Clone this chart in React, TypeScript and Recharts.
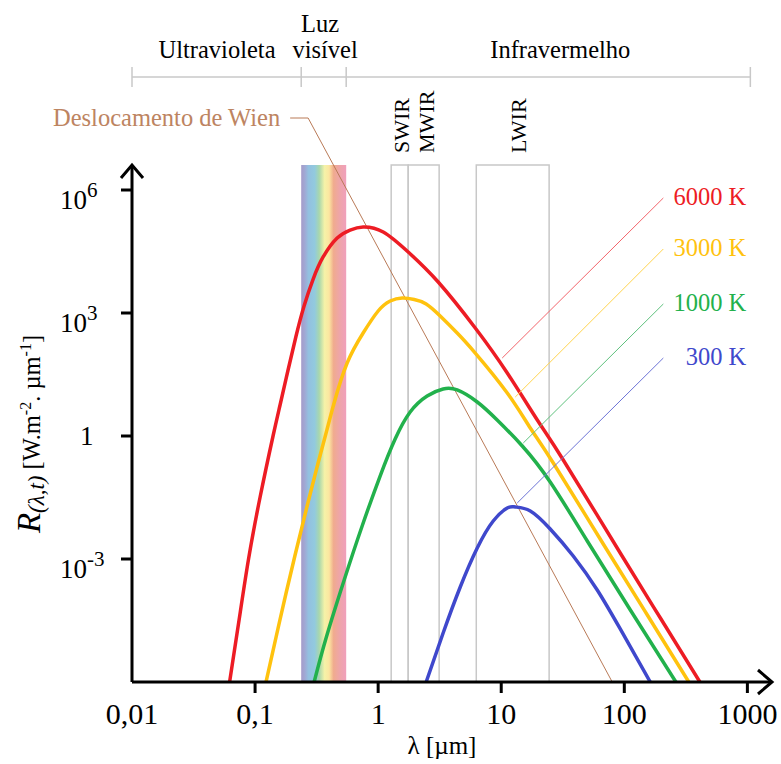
import React from "react";
import {
  LineChart,
  Line,
  XAxis,
  YAxis,
  ReferenceArea,
  ReferenceLine,
  ReferenceDot,
} from "recharts";

const FONT = "Liberation Serif, Times New Roman, serif";

// log10(λ [µm]) / log10(R)
const logL6000 = [-1.207, -1.13, -1.053, -0.959, -0.854, -0.797, -0.732, -0.667, -0.602, -0.528, -0.447, -0.333, -0.228, -0.122, 0.041, 0.244, 0.488, 0.789, 1.049, 1.293, 1.504, 1.967, 2.293, 2.614];
const logR6000 = [-6.0, -4.488, -3.0, -1.488, 0.0, 0.756, 1.61, 2.439, 3.171, 3.829, 4.366, 4.829, 5.024, 5.098, 4.976, 4.488, 3.756, 2.634, 1.537, 0.39, -0.585, -2.854, -4.439, -6.0];

const logL3000 = [-0.911, -0.829, -0.748, -0.659, -0.569, -0.488, -0.423, -0.358, -0.252, -0.122, 0.0, 0.098, 0.195, 0.293, 0.39, 0.504, 0.642, 0.789, 1.049, 1.236, 1.423, 1.829, 2.187, 2.524];
const logR3000 = [-6.0, -4.902, -3.829, -2.707, -1.61, -0.659, 0.073, 0.805, 1.78, 2.512, 3.049, 3.293, 3.366, 3.329, 3.22, 2.927, 2.512, 2.024, 1.049, 0.195, -0.659, -2.634, -4.366, -6.0];

const logL1000 = [-0.52, -0.423, -0.276, -0.13, 0.016, 0.138, 0.26, 0.398, 0.528, 0.642, 0.805, 0.967, 1.171, 1.398, 1.699, 2.049, 2.419];
const logR1000 = [-6.0, -4.927, -3.512, -2.195, -0.976, -0.073, 0.585, 0.976, 1.146, 1.122, 0.829, 0.39, -0.244, -1.122, -2.561, -4.244, -6.0];

const logL300 = [0.39, 0.528, 0.667, 0.805, 0.935, 1.049, 1.114, 1.236, 1.398, 1.585, 1.78, 1.967, 2.211];
const logR300 = [-6.0, -4.805, -3.683, -2.732, -2.073, -1.756, -1.732, -1.829, -2.268, -2.927, -3.756, -4.707, -6.0];

// Wien displacement guide
const logLWien = [-0.715, -0.569, 1.902];
const logRWien = [7.756, 7.756, -6.0];

// leader lines from each curve to its label (log10 λ, log10 R)
const leaderLow = [[1.008, 1.902], [1.114, 0.951], [1.179, -0.171], [1.13, -1.634]];
const leaderHigh = [[2.317, 5.805], [2.317, 4.561], [2.317, 3.22], [2.317, 1.902]];

const tempLabels = ["6000 K", "3000 K", "1000 K", "300 K"];
const curveColors = ["#ed1c24", "#ffc20e", "#22b14c", "#3f48cc"];
const leaderColors = ["#f2646b", "#ffd34d", "#5fc27e", "#6d74d6"];

const xTicks = [0.01, 0.1, 1, 10, 100, 1000];
const xTickLabels = ["0,01", "0,1", "1", "10", "100", "1000"];
const yTicks = [1e-3, 1, 1e3, 1e6];
const yTickExponents = ["-3", "", "3", "6"];

// spectral regions (µm)
const visibleFrom = 0.237;
const visibleTo = 0.55;
const irBoxes = [
  [1.276, 1.754],
  [1.754, 3.13],
  [6.27, 24.5],
];
const irBandNames = ["SWIR", "MWIR", "LWIR"];
const irBandLabelAt = [[0.252, 6.902], [0.455, 6.902], [1.203, 6.902]];

const regionLabels = ["Ultravioleta", "Luz", "visível", "Infravermelho"];
const regionLabelAt = [[-1.309, 9.22], [-0.472, 9.854], [-0.431, 9.22], [1.48, 9.22]];
const bracketStops = [0.01, visibleFrom, visibleTo, 10 ** 3.024];

const X_MAX = 10 ** 3.2;
const Y_MIN = 1e-6;
const Y_MAX = 1e10;
const FRAME_TOP = 10 ** 6.61;
const BRACKET_Y = 10 ** 8.756;

const pts = (ls: number[], rs: number[]) =>
  ls.map((l, i) => ({ x: 10 ** l, y: 10 ** rs[i] }));

const curves = [
  pts(logL6000, logR6000),
  pts(logL3000, logR3000),
  pts(logL1000, logR1000),
  pts(logL300, logR300),
];
const wien = pts(logLWien, logRWien);

function XTick({ x, y, payload }: any) {
  const i = xTicks.indexOf(payload.value);
  return (
    <g>
      {i > 0 && <line x1={x} x2={x} y1={y} y2={y + 11} stroke="#000" strokeWidth={3} />}
      <text x={x} y={y + 42} textAnchor="middle" fontFamily={FONT} fontSize={30} fill="#000">
        {xTickLabels[i]}
      </text>
    </g>
  );
}

function YTick({ x, y, payload }: any) {
  const i = yTicks.indexOf(payload.value);
  const exp = yTickExponents[i];
  return (
    <g>
      <line x1={x - 11} x2={x} y1={y} y2={y} stroke="#000" strokeWidth={3} />
      {exp === "" ? (
        <text x={x - 52} y={y + 9} fontFamily={FONT} fontSize={27} fill="#000">1</text>
      ) : (
        <text x={x - 72} y={y + 19} fontFamily={FONT} fontSize={27} fill="#000">
          10<tspan dy={-12} fontSize={21}>{exp}</tspan>
        </text>
      )}
    </g>
  );
}

function YTitle() {
  return (
    <text transform="translate(40,434) rotate(-90)" textAnchor="middle" fontFamily={FONT} fontSize={24.5} fill="#000">
      <tspan fontStyle="italic" fontSize={33}>R</tspan>
      <tspan fontStyle="italic" fontSize={23} dy={4}>(λ,t)</tspan>
      <tspan dy={-4}> [W.m</tspan>
      <tspan fontSize={16} dy={-9}>-2</tspan>
      <tspan dy={9}>. µm</tspan>
      <tspan fontSize={16} dy={-9}>-1</tspan>
      <tspan dy={9}>]</tspan>
    </text>
  );
}

function XTitle() {
  return (
    <text x={442} y={754} textAnchor="middle" fontFamily={FONT} fontSize={25} fill="#000">
      λ [µm]
    </text>
  );
}

const axisArrow = (dir: "up" | "right") => (p: any) => {
  const { x1, y1, x2, y2 } = p;
  const head =
    dir === "up"
      ? `M${x2 - 11},${y2 + 13} L${x2},${y2} L${x2 + 11},${y2 + 13}`
      : `M${x2 - 14},${y2 - 12} L${x2},${y2} L${x2 - 14},${y2 + 12}`;
  return (
    <g>
      <line x1={x1} y1={y1} x2={x2} y2={y2} stroke="#000" strokeWidth={3} />
      <path d={head} fill="none" stroke="#000" strokeWidth={3} />
    </g>
  );
};

const textAt =
  (text: string, opts: { dx?: number; dy?: number; anchor?: string; color?: string; size?: number; rotate?: boolean }) =>
  (p: any) => {
    const { dx = 0, dy = 0, anchor = "middle", color = "#000", size = 24.5, rotate = false } = opts;
    const tx = p.cx + dx;
    const ty = p.cy + dy;
    return (
      <text
        x={rotate ? 0 : tx}
        y={rotate ? 0 : ty}
        transform={rotate ? `translate(${tx},${ty}) rotate(-90)` : undefined}
        textAnchor={anchor}
        fontFamily={FONT}
        fontSize={size}
        fill={color}
      >
        {text}
      </text>
    );
  };

export default function App() {
  return (
    <div style={{ position: "absolute", left: 0, top: 0, width: 781, height: 764, background: "#fff" }}>
      <LineChart width={781} height={764} margin={{ top: 26, right: 9, bottom: 0, left: 0 }}>
        <defs>
          <linearGradient id="rainbow" x1="0" x2="1" y1="0" y2="0">
            <stop offset="0%" stopColor="#a59bc9" />
            <stop offset="8%" stopColor="#a0a8d4" />
            <stop offset="16%" stopColor="#93c0e0" />
            <stop offset="30%" stopColor="#92cade" />
            <stop offset="40%" stopColor="#a8d7ac" />
            <stop offset="52%" stopColor="#f5f2a8" />
            <stop offset="62%" stopColor="#fbe6a0" />
            <stop offset="72%" stopColor="#f0ab8e" />
            <stop offset="85%" stopColor="#eea5a8" />
            <stop offset="100%" stopColor="#f0a0bc" />
          </linearGradient>
        </defs>
        <XAxis
          dataKey="x"
          type="number"
          scale="log"
          domain={[0.01, X_MAX]}
          allowDataOverflow
          ticks={xTicks}
          interval={0}
          height={82}
          axisLine={false}
          tickLine={false}
          tickSize={0}
          tickMargin={0}
          tick={(p: any) => <XTick {...p} />}
          label={{ content: () => <XTitle /> }}
        />
        <YAxis
          dataKey="y"
          type="number"
          scale="log"
          domain={[Y_MIN, Y_MAX]}
          allowDataOverflow
          ticks={yTicks}
          interval={0}
          width={132}
          axisLine={false}
          tickLine={false}
          tickSize={0}
          tickMargin={0}
          tick={(p: any) => <YTick {...p} />}
          label={{ content: () => <YTitle /> }}
        />

        <ReferenceArea
          x1={visibleFrom}
          x2={visibleTo}
          y1={Y_MIN}
          y2={FRAME_TOP}
          fill="url(#rainbow)"
          fillOpacity={1}
          stroke="none"
          ifOverflow="visible"
        />
        {irBoxes.map(([a, b], i) => (
          <ReferenceArea
            key={"box" + i}
            x1={a}
            x2={b}
            y1={Y_MIN}
            y2={FRAME_TOP}
            fill="none"
            stroke="#c8c8c8"
            strokeWidth={1.5}
            ifOverflow="visible"
          />
        ))}

        <ReferenceLine
          segment={[{ x: 0.01, y: BRACKET_Y }, { x: bracketStops[3], y: BRACKET_Y }]}
          stroke="#c8c8c8"
          strokeWidth={1.5}
          ifOverflow="visible"
        />
        {bracketStops.map((s, i) => (
          <ReferenceLine
            key={"stop" + i}
            segment={[{ x: s, y: 10 ** 8.512 }, { x: s, y: 1e9 }]}
            stroke="#c8c8c8"
            strokeWidth={1.5}
            ifOverflow="visible"
          />
        ))}
        {regionLabels.map((t, i) => (
          <ReferenceDot
            key={"reg" + i}
            x={10 ** regionLabelAt[i][0]}
            y={10 ** regionLabelAt[i][1]}
            ifOverflow="visible"
            shape={textAt(t, {})}
          />
        ))}
        {irBandNames.map((t, i) => (
          <ReferenceDot
            key={"band" + i}
            x={10 ** irBandLabelAt[i][0]}
            y={10 ** irBandLabelAt[i][1]}
            ifOverflow="visible"
            shape={textAt(t, { anchor: "start", size: 22, rotate: true })}
          />
        ))}

        <Line
          data={wien}
          dataKey="y"
          type="linear"
          stroke="#b97a57"
          strokeWidth={1}
          dot={false}
          isAnimationActive={false}
        />
        <ReferenceDot
          x={wien[0].x}
          y={wien[0].y}
          ifOverflow="visible"
          shape={textAt("Deslocamento de Wien", { dx: -10, dy: 8, anchor: "end", color: "#bd8461" })}
        />

        {curves.map((d, i) => (
          <Line
            key={"c" + i}
            data={d}
            dataKey="y"
            type="natural"
            stroke={curveColors[i]}
            strokeWidth={3.5}
            dot={false}
            isAnimationActive={false}
          />
        ))}

        {leaderLow.map((lo, i) => (
          <ReferenceLine
            key={"lead" + i}
            segment={[
              { x: 10 ** lo[0], y: 10 ** lo[1] },
              { x: 10 ** leaderHigh[i][0], y: 10 ** leaderHigh[i][1] },
            ]}
            stroke={leaderColors[i]}
            strokeWidth={1}
            ifOverflow="visible"
          />
        ))}
        {tempLabels.map((t, i) => (
          <ReferenceDot
            key={"tl" + i}
            x={10 ** leaderHigh[i][0]}
            y={10 ** leaderHigh[i][1]}
            ifOverflow="visible"
            shape={textAt(t, { dx: 83, dy: 7, anchor: "end", color: curveColors[i] })}
          />
        ))}

        <ReferenceLine
          segment={[{ x: 0.01, y: Y_MIN }, { x: 0.01, y: FRAME_TOP }]}
          ifOverflow="visible"
          shape={axisArrow("up")}
        />
        <ReferenceLine
          segment={[{ x: 0.01, y: Y_MIN }, { x: X_MAX, y: Y_MIN }]}
          ifOverflow="visible"
          shape={axisArrow("right")}
        />
      </LineChart>
    </div>
  );
}
